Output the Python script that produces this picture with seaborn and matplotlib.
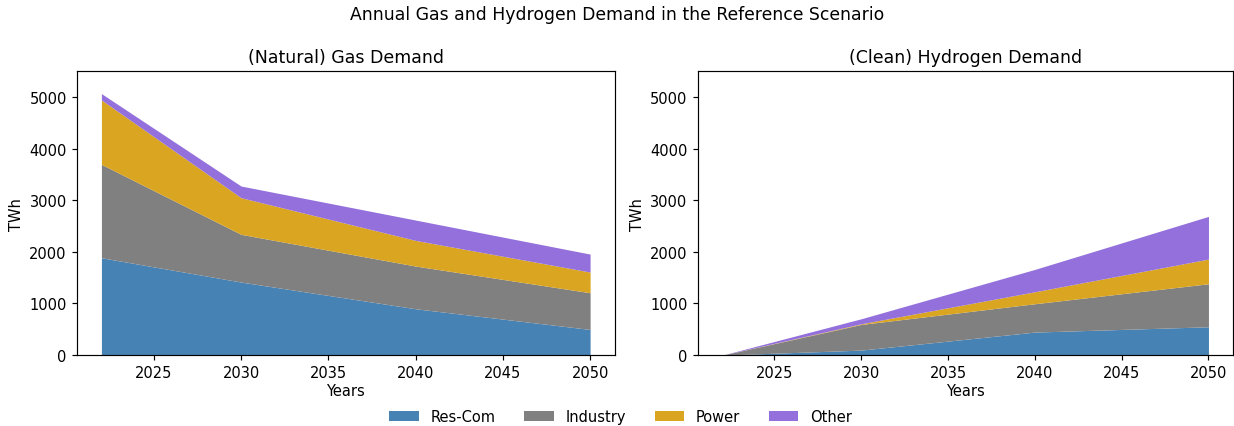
import numpy as np
import pandas as pd
import matplotlib
matplotlib.use("Agg")
import matplotlib.pyplot as plt
import seaborn as sns

years = [2022, 2030, 2040, 2050]
sectors = ["Res-Com", "Industry", "Power", "Other"]
colors = ["#4682B4", "#808080", "#DAA520", "#9370DB"]

gas_rescom = [1886, 1415, 898, 497]
gas_industry = [1809, 924, 827, 711]
gas_power = [1247, 710, 497, 401]
gas_other = [123, 226, 394, 348]

h2_rescom = [0, 97, 446, 549]
h2_industry = [0, 497, 549, 833]
h2_power = [0, 13, 232, 478]
h2_other = [0, 97, 433, 827]

sns.set_theme(style="ticks", rc={"axes.edgecolor": "black", "xtick.color": "black",
                                 "ytick.color": "black", "axes.labelcolor": "black",
                                 "text.color": "black"})
plt.rcParams["font.family"] = ["DejaVu Sans"]

fs = 10.5
fig = plt.figure(figsize=(12.34, 4.27), dpi=100)
ax1 = fig.add_axes([0.0624, 0.166, 0.4356, 0.665])
ax2 = fig.add_axes([0.5656, 0.166, 0.4334, 0.665])

panels = [
    (ax1, "(Natural) Gas Demand", [gas_rescom, gas_industry, gas_power, gas_other]),
    (ax2, "(Clean) Hydrogen Demand", [h2_rescom, h2_industry, h2_power, h2_other]),
]
for ax, title, series in panels:
    ax.stackplot(years, *series, labels=sectors, colors=colors, linewidth=0)
    ax.set_title(title, fontsize=12.5, pad=6.3)
    ax.set_xlabel("Years", fontsize=fs, labelpad=2)
    ax.set_ylabel("TWh", fontsize=fs)
    ax.set_ylim(0, 5500)
    ax.set_xticks([2025, 2030, 2035, 2040, 2045, 2050])
    ax.set_yticks([0, 1000, 2000, 3000, 4000, 5000])
    ax.tick_params(labelsize=fs, length=3.7, width=0.85, pad=3.7)
    for s in ax.spines.values():
        s.set_linewidth(0.85)

handles, labels = ax1.get_legend_handles_labels()
fig.legend(handles, labels, loc="center", bbox_to_anchor=(0.503, 0.022), ncol=4,
           frameon=False, fontsize=fs)
fig.suptitle("Annual Gas and Hydrogen Demand in the Reference Scenario", fontsize=12.4, y=0.985)

fig.savefig("out.png", dpi=100)
